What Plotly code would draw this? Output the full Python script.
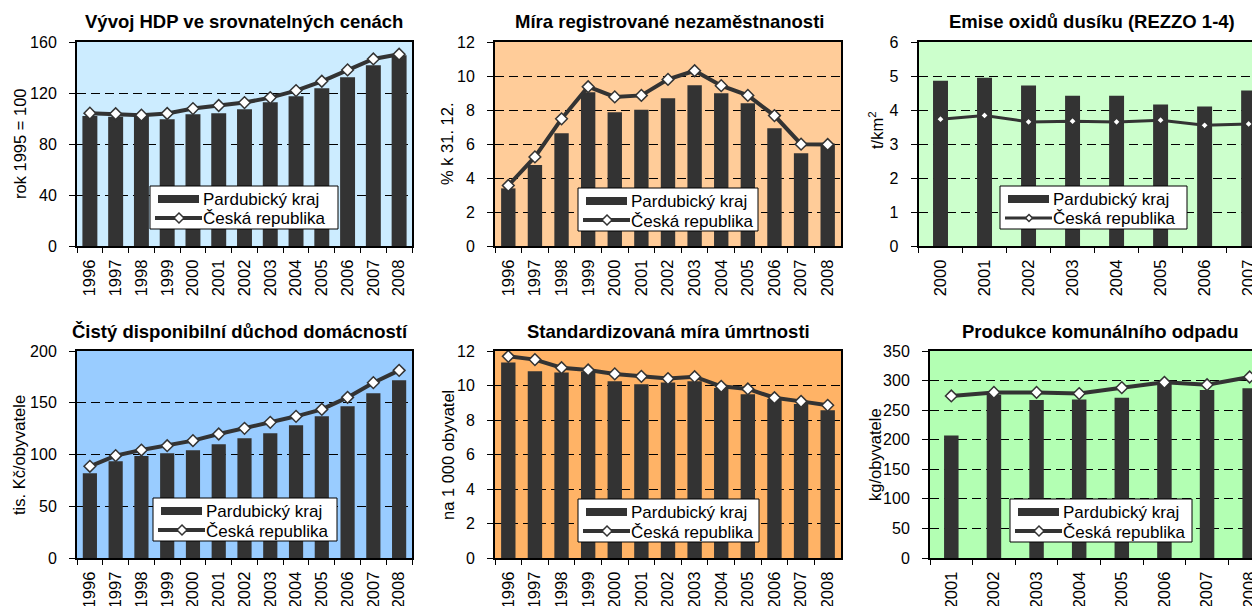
import plotly.graph_objects as go

# ---------------- data ----------------
years_96_08 = ["1996", "1997", "1998", "1999", "2000", "2001", "2002",
               "2003", "2004", "2005", "2006", "2007", "2008"]
years_00_07 = ["2000", "2001", "2002", "2003", "2004", "2005", "2006", "2007"]
years_01_08 = ["2001", "2002", "2003", "2004", "2005", "2006", "2007", "2008"]

hdp_pk = [102.0, 101.3, 102.6, 99.5, 103.4, 104.2, 107.3, 112.8, 117.5, 123.8, 132.4, 141.8, 149.6]
hdp_cr = [104.2, 103.7, 102.6, 103.9, 107.8, 110.2, 112.5, 116.4, 121.9, 129.2, 138.1, 146.7, 150.4]

unemp_pk = [3.39, 4.76, 6.63, 9.04, 7.87, 8.02, 8.69, 9.45, 8.98, 8.40, 6.93, 5.46, 6.03]
unemp_cr = [3.56, 5.24, 7.48, 9.37, 8.77, 8.86, 9.80, 10.31, 9.43, 8.86, 7.67, 5.99, 5.97]

nox_pk = [4.86, 4.95, 4.72, 4.42, 4.42, 4.16, 4.10, 4.57]
nox_cr = [3.73, 3.84, 3.65, 3.67, 3.65, 3.70, 3.55, 3.59]

income_pk = [81.8, 93.4, 98.6, 101.1, 104.0, 109.8, 115.6, 120.5, 128.2, 136.9, 146.5, 159.1, 171.7]
income_cr = [88.6, 98.9, 104.3, 108.5, 113.4, 119.8, 125.3, 131.1, 136.9, 143.6, 155.2, 169.4, 181.3]

mort_pk = [11.34, 10.82, 10.76, 10.80, 10.24, 10.07, 10.18, 10.24, 9.86, 9.49, 9.22, 8.93, 8.56]
mort_cr = [11.69, 11.50, 11.03, 10.90, 10.67, 10.53, 10.40, 10.51, 9.95, 9.80, 9.29, 9.08, 8.85]

waste_pk = [207, 276, 267, 268, 271, 295, 284, 287]
waste_cr = [274, 280, 280, 278, 288, 297, 293, 306]

titles = ["Vývoj HDP ve srovnatelných cenách",
          "Míra registrované nezaměstnanosti",
          "Emise oxidů dusíku (REZZO 1-4)",
          "Čistý disponibilní důchod domácností",
          "Standardizovaná míra úmrtnosti",
          "Produkce komunálního odpadu"]
ytitles = ["rok 1995 = 100", "% k 31. 12.", "t/km<sup>2</sup>",
           "tis. Kč/obyvatele", "na 1 000 obyvatel", "kg/obyvatele"]
name_pk = "Pardubický kraj"
name_cr = "Česká republika"

# ---------------- layout helpers ----------------
W, H = 1260, 606
OFF = 8          # the page body adds an 8px margin around the figure
FONT = "Liberation Sans, Arial, sans-serif"
DARK = "#333333"


def fx(px):
    return (px - OFF) / W


def fy(py):
    return 1 - (py - OFF) / H


panels = [
    dict(cats=years_96_08, pk=hdp_pk, cr=hdp_cr, xd=(77, 412), yd=(42, 246),
         yr=160, dt=40, bg="#CCECFF", bw=0.58, xend=None, right=True,
         title_x=244, title_y=22, yt_x=20, yt_y=144, leg=(150, 186, 188), lw=4, ms=9),
    dict(cats=years_96_08, pk=unemp_pk, cr=unemp_cr, xd=(495, 841), yd=(42, 246),
         yr=12, dt=2, bg="#FFCC99", bw=0.54, xend=None, right=True,
         title_x=669, title_y=22, yt_x=447, yt_y=144, leg=(578, 188, 180), lw=4, ms=9),
    dict(cats=years_00_07, pk=nox_pk, cr=nox_cr, xd=(918.5, 1268), yd=(42, 246),
         yr=6, dt=1, bg="#CCFFCC", bw=0.34, xend=7.44, right=False,
         title_x=1092, title_y=22, yt_x=876, yt_y=130, leg=(1000, 186, 187), lw=3, ms=6),
    dict(cats=years_96_08, pk=income_pk, cr=income_cr, xd=(77, 412), yd=(351, 558),
         yr=200, dt=50, bg="#99CCFF", bw=0.55, xend=None, right=True,
         title_x=240, title_y=331, yt_x=19, yt_y=455, leg=(153, 498, 184), lw=4, ms=9),
    dict(cats=years_96_08, pk=mort_pk, cr=mort_cr, xd=(495, 841), yd=(351, 558),
         yr=12, dt=2, bg="#FFB366", bw=0.54, xend=None, right=True,
         title_x=668, title_y=331, yt_x=448, yt_y=455, leg=(578, 499, 181), lw=4, ms=9),
    dict(cats=years_01_08, pk=waste_pk, cr=waste_cr, xd=(930, 1268), yd=(351, 558),
         yr=350, dt=50, bg="#B3FFB3", bw=0.34, xend=7.43, right=False,
         title_x=1100, title_y=331, yt_x=875, yt_y=455, leg=(1010, 499, 182), lw=4, ms=9),
]

fig = go.Figure()
layout_updates = {}
annotations = []
shapes = []

for i, p in enumerate(panels, start=1):
    sfx = "" if i == 1 else str(i)
    xa, ya = "x" + sfx, "y" + sfx

    fig.add_trace(go.Bar(x=p["cats"], y=p["pk"], xaxis=xa, yaxis=ya, width=p["bw"],
                         marker=dict(color=DARK, line=dict(width=0)),
                         name=name_pk, showlegend=False))
    fig.add_trace(go.Scatter(x=p["cats"], y=p["cr"], xaxis=xa, yaxis=ya,
                             mode="lines+markers", name=name_cr, showlegend=False,
                             line=dict(color=DARK, width=p["lw"]),
                             marker=dict(symbol="diamond", size=p["ms"], color="white",
                                         line=dict(color=DARK, width=1.5))))

    n = len(p["cats"])
    xrange = [-0.5, p["xend"] if p["xend"] is not None else n - 0.5]
    layout_updates["xaxis" + sfx] = dict(
        domain=[fx(p["xd"][0]), min(1.0, fx(p["xd"][1]))], anchor=ya, type="category",
        range=xrange, showline=True, linecolor="black", linewidth=2,
        mirror=True, ticks="outside", tickson="boundaries", ticklen=5,
        tickcolor="black", tickwidth=1, tickangle=-90, showgrid=False,
        ticklabelstandoff=5, automargin=False,
        tickfont=dict(family=FONT, size=16.5, color="black"), fixedrange=True)
    layout_updates["yaxis" + sfx] = dict(
        domain=[fy(p["yd"][1]), fy(p["yd"][0])], anchor=xa, range=[0, p["yr"]],
        dtick=p["dt"], tick0=0, showline=True, linecolor="black", linewidth=2,
        mirror=p["right"], ticks="outside", ticklen=6, tickcolor="black", tickwidth=1,
        showgrid=True, gridcolor="black", gridwidth=1, griddash="9px,5px",
        zeroline=False, tickfont=dict(family=FONT, size=16, color="black"),
        ticklabelstandoff=9, automargin=False, fixedrange=True)

    # plot-area background
    shapes.append(dict(type="rect", xref=xa + " domain", yref=ya + " domain",
                       x0=0, x1=1, y0=0, y1=1, fillcolor=p["bg"],
                       line=dict(width=0), layer="below"))

    # legend box (drawn like the original Excel legend)
    bx, by, bw = p["leg"]
    bh = 43
    shapes.append(dict(type="rect", xref="paper", yref="paper",
                       x0=fx(bx), x1=fx(bx + bw), y0=fy(by + bh), y1=fy(by),
                       fillcolor="white", line=dict(color="black", width=1), layer="above"))
    shapes.append(dict(type="rect", xref="paper", yref="paper",
                       x0=fx(bx + 8), x1=fx(bx + 49), y0=fy(by + 17), y1=fy(by + 9),
                       fillcolor=DARK, line=dict(width=0), layer="above"))
    shapes.append(dict(type="line", xref="paper", yref="paper",
                       x0=fx(bx + 5), x1=fx(bx + 52), y0=fy(by + 32), y1=fy(by + 32),
                       line=dict(color=DARK, width=p["lw"]), layer="above"))
    s = 5 if p["ms"] >= 9 else 3.5
    cx, cy = bx + 29, by + 32
    path = "M {:.5f},{:.5f} L {:.5f},{:.5f} L {:.5f},{:.5f} L {:.5f},{:.5f} Z".format(
        fx(cx - s), fy(cy), fx(cx), fy(cy - s), fx(cx + s), fy(cy), fx(cx), fy(cy + s))
    shapes.append(dict(type="path", xref="paper", yref="paper", path=path,
                       fillcolor="white", line=dict(color=DARK, width=1.5), layer="above"))
    annotations.append(dict(text=name_pk, xref="paper", yref="paper",
                            x=fx(bx + 51), y=fy(by + 13), xanchor="left", yanchor="middle",
                            showarrow=False,
                            font=dict(family=FONT, size=17, color="black")))
    annotations.append(dict(text=name_cr, xref="paper", yref="paper",
                            x=fx(bx + 51), y=fy(by + 33), xanchor="left", yanchor="middle",
                            showarrow=False,
                            font=dict(family=FONT, size=17, color="black")))

    # titles
    annotations.append(dict(text="<b>" + titles[i - 1] + "</b>", xref="paper", yref="paper",
                            x=fx(p["title_x"]), y=fy(p["title_y"]), xanchor="center",
                            yanchor="middle", showarrow=False,
                            font=dict(family=FONT, size=18.5, color="black")))
    annotations.append(dict(text=ytitles[i - 1], xref="paper", yref="paper",
                            x=fx(p["yt_x"]), y=fy(p["yt_y"]), xanchor="center",
                            yanchor="middle", showarrow=False, textangle=-90,
                            font=dict(family=FONT, size=16.5, color="black")))

fig.update_layout(**layout_updates)
fig.update_layout(width=W, height=H, autosize=False,
                  margin=dict(l=0, r=0, t=0, b=0, pad=0),
                  paper_bgcolor="white", plot_bgcolor="rgba(0,0,0,0)",
                  annotations=annotations, shapes=shapes, showlegend=False,
                  font=dict(family=FONT, color="black"), hovermode="closest")

fig.write_html("out.html")
